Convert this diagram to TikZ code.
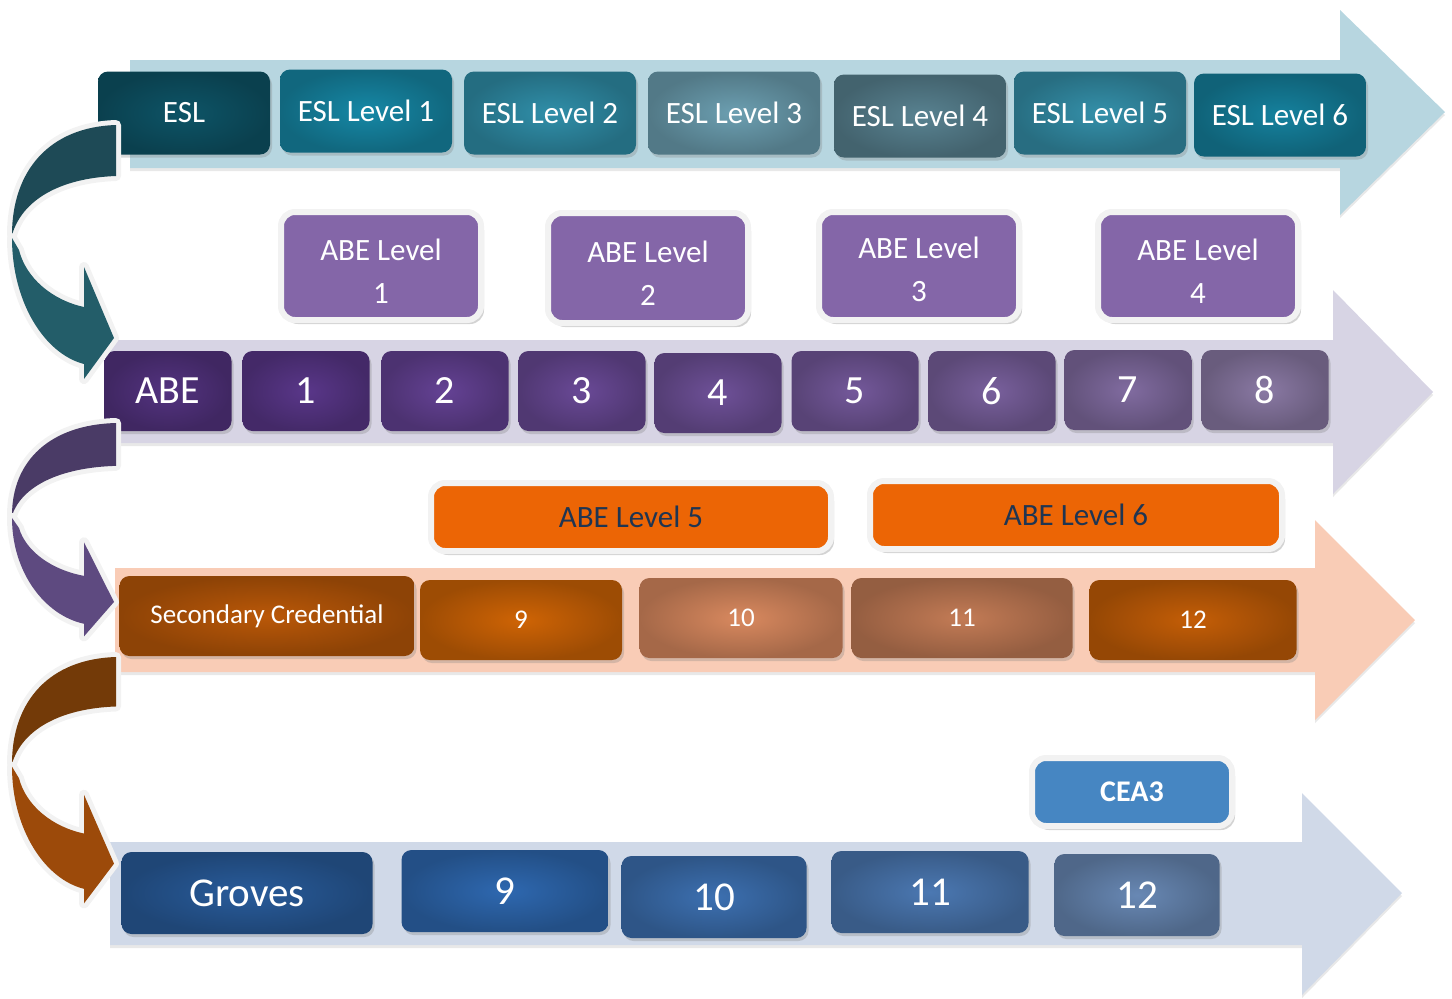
\documentclass[tikz,border=0pt]{standalone}
\usepackage{fontspec}
\setmainfont{Carlito}
\usepackage{tikz}
\usetikzlibrary{positioning,shadows}
\definecolor{eslband}{HTML}{B7D6E0}
\definecolor{abeband}{HTML}{D7D4E4}
\definecolor{secband}{HTML}{F9CCB6}
\definecolor{grvband}{HTML}{D0D9E8}
\definecolor{eslA}{HTML}{1688A6}
\definecolor{eslB}{HTML}{6C9FB1}
\definecolor{abeA}{HTML}{5F3A92}
\definecolor{abeB}{HTML}{8A79A4}
\definecolor{secA}{HTML}{BA5808}
\definecolor{secB}{HTML}{D9895F}
\definecolor{grvA}{HTML}{2E68B0}
\definecolor{grvB}{HTML}{6888B4}
\definecolor{lvlpurple}{HTML}{8466A8}
\definecolor{lvlorange}{HTML}{EC6505}
\definecolor{lvlblue}{HTML}{4686C2}
\definecolor{lvltext}{HTML}{1F3552}
\definecolor{frame}{HTML}{F2F2F2}
\definecolor{tealback}{HTML}{1E4A56}
\definecolor{tealfront}{HTML}{235D69}
\definecolor{purpleback}{HTML}{4A3B66}
\definecolor{purplefront}{HTML}{5E4A80}
\definecolor{brownback}{HTML}{733A08}
\definecolor{brownfront}{HTML}{9C4A0A}

% curved turn arrow at the left: shift, yscale, back colour, front colour
\newcommand{\uturn}[4]{%
  \begin{scope}[shift={(0,#1)}, yscale=#2]
    \fill[uarrow, fill=#3] (116,0) .. controls (50,2) and (12,45) .. (12,110)
      .. controls (22,75) and (60,53) .. (116,51) -- cycle;
    \fill[uarrow, fill=#4] (12,113) .. controls (12,178) and (45,229) .. (84,239)
      -- (84,254) -- (114,213) -- (84,142) -- (84,182)
      .. controls (52,175) and (26,153) .. (19,125) -- cycle;
  \end{scope}}

\begin{document}
\begin{tikzpicture}[
    x=0.5pt, y=-0.5pt,
    band/.style={drop shadow={opacity=0.18, shadow xshift=0pt, shadow yshift=-1.5pt}},
    tone/.style={inner color=#1, outer color=#1!76!black},
    tile/.style={rectangle, rounded corners=5pt, text=white,
                 drop shadow={opacity=0.3, shadow xshift=1pt, shadow yshift=-1.5pt}},
    esl/.style={tile, minimum width=86pt, minimum height=41.5pt, font=\fontsize{15.5}{18}\selectfont},
    abe/.style={tile, minimum width=63.5pt, minimum height=40pt, font=\fontsize{20}{24}\selectfont},
    sec/.style={tile, minimum height=40pt, font=\fontsize{13.5}{16}\selectfont},
    grv/.style={tile, minimum height=41pt, font=\fontsize{20.5}{24}\selectfont},
    lvl/.style={rectangle, rounded corners=7pt, draw=frame, line width=3pt, align=center,
                drop shadow={opacity=0.35, shadow xshift=1.5pt, shadow yshift=-2pt}},
    uarrow/.style={drop shadow={opacity=0.3, shadow xshift=1.5pt, shadow yshift=-1.5pt},
                   preaction={draw=frame, line width=5pt, line join=round}}
  ]
    \useasboundingbox (0,0) rectangle (1452,998);

    % background arrows
    \fill[band, eslband] (130,60) -- (1340,60) -- (1340,10) -- (1445,112)
      -- (1340,215) -- (1340,168) -- (130,168) -- cycle;
    \fill[band, abeband] (105,340) -- (1333,340) -- (1333,290) -- (1433,392)
      -- (1333,494) -- (1333,443) -- (105,443) -- cycle;
    \fill[band, secband] (115,568) -- (1315,568) -- (1315,520) -- (1415,620)
      -- (1315,720) -- (1315,672) -- (115,672) -- cycle;
    \fill[band, grvband] (110,842) -- (1302,842) -- (1302,793) -- (1402,893)
      -- (1302,995) -- (1302,945) -- (110,945) -- cycle;

    % ESL row
    \node[esl, tone=eslA!62!black] (esl) at (184,113) {ESL};
    \node[esl, tone=eslA] (esl1) at (366,111) {ESL Level 1};
    \node[esl, tone=eslA!70!eslB] (esl2) at (550,113) {ESL Level 2};
    \node[esl, tone=eslB] (esl3) at (734,113) {ESL Level 3};
    \node[esl, tone=eslB!82!black] (esl4) at (920,116) {ESL Level 4};
    \node[esl, tone=eslA!65!eslB] (esl5) at (1100,113) {ESL Level 5};
    \node[esl, tone=eslA!95!black] (esl6) at (1280,115) {ESL Level 6};

    % ABE row
    \node[lvl, fill=lvlpurple, text=white, minimum width=100pt, minimum height=54pt,
          font=\fontsize{15.5}{21.5}\selectfont] (abelvl1) at (381,266) {\rule{0pt}{16pt}ABE Level\\1};
    \node[lvl, fill=lvlpurple, text=white, minimum width=100pt, minimum height=55pt,
          font=\fontsize{15.5}{21.5}\selectfont] (abelvl2) at (648,268) {\rule{0pt}{16pt}ABE Level\\2};
    \node[lvl, fill=lvlpurple, text=white, minimum width=100pt, minimum height=54pt,
          font=\fontsize{15.5}{21.5}\selectfont] (abelvl3) at (919,266) {\rule{0pt}{14pt}ABE Level\\3};
    \node[lvl, fill=lvlpurple, text=white, minimum width=100pt, minimum height=54pt,
          font=\fontsize{15.5}{21.5}\selectfont] (abelvl4) at (1198,266) {\rule{0pt}{16pt}ABE Level\\4};

    \node[abe, tone=abeA!88!black] (abe) at (168,391) {ABE};
    \node[abe, tone=abeA!94!black] (abe1) at (306,391) {1};
    \node[abe, tone=abeA!88!abeB] (abe2) at (445,391) {2};
    \node[abe, tone=abeA!76!abeB] (abe3) at (582,391) {3};
    \node[abe, tone=abeA!64!abeB] (abe4) at (718,393) {4};
    \node[abe, tone=abeA!52!abeB] (abe5) at (855,391) {5};
    \node[abe, tone=abeA!40!abeB] (abe6) at (992,391) {6};
    \node[abe, tone=abeA!22!abeB] (abe7) at (1128,390) {7};
    \node[abe, tone=abeB] (abe8) at (1265,390) {8};

    % secondary row
    \node[lvl, fill=lvlorange, text=lvltext, minimum width=200pt, minimum height=34pt,
          font=\fontsize{15.5}{18}\selectfont] (abelvl5) at (631,517) {ABE Level 5};
    \node[lvl, fill=lvlorange, text=lvltext, minimum width=206pt, minimum height=34pt,
          font=\fontsize{15.5}{18}\selectfont] (abelvl6) at (1076,515) {ABE Level 6};

    \node[sec, tone=secA, minimum width=147.5pt] (sec) at (267,616) {Secondary Credential};
    \node[sec, tone=secA!70!orange, minimum width=101pt] (sec9) at (521,620) {9};
    \node[sec, tone=secB, minimum width=101.5pt] (sec10) at (741,618) {10};
    \node[sec, tone=secB!90!black, minimum width=110.5pt] (sec11) at (962,618) {11};
    \node[sec, tone=secA!85!orange, minimum width=103.5pt] (sec12) at (1193,620) {12};

    % Groves row
    \node[lvl, fill=lvlblue, text=white, minimum width=100pt, minimum height=34pt,
          font=\bfseries\fontsize{15}{18}\selectfont] (cea) at (1132,792) {CEA3};

    \node[grv, tone=grvA!88!black, minimum width=125.5pt] (groves) at (247,893) {Groves};
    \node[grv, tone=grvA, minimum width=103.5pt] (grv9) at (505,891) {9};
    \node[grv, tone=grvA!75!grvB, minimum width=92.5pt] (grv10) at (714,897) {10};
    \node[grv, tone=grvA!50!grvB, minimum width=98.5pt] (grv11) at (930,892) {11};
    \node[grv, tone=grvB, minimum width=82.5pt] (grv12) at (1137,895) {12};

    % turn arrows
    \uturn{125}{1}{tealback}{tealfront}
    \uturn{423}{0.84}{purpleback}{purplefront}
    \uturn{657}{0.97}{brownback}{brownfront}
  \end{tikzpicture}
\end{document}
